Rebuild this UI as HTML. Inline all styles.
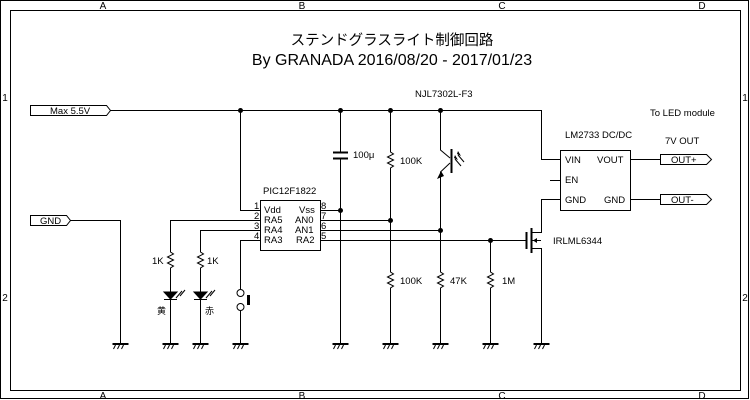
<!DOCTYPE html>
<html><head><meta charset="utf-8"><style>
html,body{margin:0;padding:0;background:#fff;}
svg{display:block;font-family:"Liberation Sans","Noto Sans CJK JP",sans-serif;}
</style></head><body>
<svg width="750" height="400" viewBox="0 0 750 400" xmlns="http://www.w3.org/2000/svg">
<defs>
<g id="gnd" stroke="#000" stroke-width="1" fill="none">
<line x1="-8" y1="0" x2="8" y2="0" stroke-width="2"/>
<line x1="-5" y1="1" x2="-7" y2="5"/><line x1="-1" y1="1" x2="-3" y2="5"/><line x1="3" y1="1" x2="1" y2="5"/>
</g>
<g id="res" stroke="#000" stroke-width="1" fill="none">
<polyline points="0,-10 0,-8 3,-6 -3,-3 3,0 -3,3 3,6 0,8 0,10"/>
</g>
</defs>
<rect x="0.5" y="0.5" width="748" height="398" fill="none" stroke="#000"/>
<rect x="10.5" y="10.5" width="730" height="380" fill="none" stroke="#000"/>
<g font-size="10" fill="#000" text-anchor="middle">
<text x="103" y="9">A</text><text x="302" y="9">B</text><text x="502" y="9">C</text><text x="702" y="9">D</text>
<text x="103" y="399">A</text><text x="302" y="399">B</text><text x="502" y="399">C</text><text x="702" y="399">D</text>
<text x="5" y="101">1</text><text x="745" y="101">1</text><text x="5" y="301">2</text><text x="745" y="301">2</text>
</g>
<g fill="#000" text-anchor="middle">
<text x="392" y="45" font-size="14.5">ステンドグラスライト制御回路</text>
<text x="392" y="65" font-size="16">By GRANADA 2016/08/20 - 2017/01/23</text>
</g>
<g stroke="#000" stroke-width="1" fill="none">
<polygon points="30.5,105.5 106.5,105.5 110.5,110.5 106.5,115.5 30.5,115.5"/>
<polygon points="30.5,215.5 66.5,215.5 70.5,220.5 66.5,225.5 30.5,225.5"/>
<polygon points="660.5,154.5 706.5,154.5 711.5,159.5 706.5,164.5 660.5,164.5"/>
<polygon points="660.5,194.5 706.5,194.5 711.5,199.5 706.5,204.5 660.5,204.5"/>
<polyline points="110,110.5 541.5,110.5 541.5,159.5 560,159.5"/>
<line x1="550" y1="180.5" x2="560" y2="180.5"/>
<polyline points="560,199.5 541.5,199.5 541.5,232.5 532,232.5"/>
<polyline points="532,248.5 541.5,248.5 541.5,343"/>
<line x1="631" y1="159.5" x2="660" y2="159.5"/>
<line x1="631" y1="199.5" x2="660" y2="199.5"/>
<rect x="560.5" y="150.5" width="70" height="60"/>
<polyline points="70,220.5 120.5,220.5 120.5,343"/>
<rect x="260.5" y="200.5" width="60" height="50"/>
<polyline points="240.5,110 240.5,210.5 260,210.5"/>
<polyline points="260,220.5 170.5,220.5 170.5,250"/>
<polyline points="260,230.5 200.5,230.5 200.5,250"/>
<polyline points="260,240.5 240.5,240.5 240.5,289"/>
<line x1="320" y1="210.5" x2="340" y2="210.5"/>
<line x1="320" y1="220.5" x2="390" y2="220.5"/>
<line x1="320" y1="230.5" x2="440" y2="230.5"/>
<line x1="320" y1="240.5" x2="526" y2="240.5"/>
<line x1="170.5" y1="270" x2="170.5" y2="343"/>
<line x1="200.5" y1="270" x2="200.5" y2="343"/>
<line x1="240.5" y1="311" x2="240.5" y2="343"/>
<line x1="340.5" y1="110" x2="340.5" y2="152"/>
<line x1="340.5" y1="158" x2="340.5" y2="343"/>
<line x1="333" y1="152.5" x2="348" y2="152.5" stroke-width="2"/>
<line x1="333" y1="158.5" x2="348" y2="158.5" stroke-width="2"/>
<line x1="390.5" y1="110" x2="390.5" y2="150"/>
<line x1="390.5" y1="170" x2="390.5" y2="270"/>
<line x1="390.5" y1="290" x2="390.5" y2="343"/>
<polyline points="440.5,110 440.5,150 450,158"/>
<polyline points="450,163 440.5,172 440.5,270"/>
<line x1="440.5" y1="290" x2="440.5" y2="343"/>
<line x1="451.5" y1="149" x2="451.5" y2="173" stroke-width="2"/>
<line x1="461" y1="166" x2="455" y2="159"/><line x1="464" y1="162" x2="458" y2="155"/>
<line x1="490.5" y1="240" x2="490.5" y2="270"/>
<line x1="490.5" y1="290" x2="490.5" y2="343"/>
<line x1="526.5" y1="232" x2="526.5" y2="249" stroke-width="2"/>
<line x1="531.5" y1="228" x2="531.5" y2="253" stroke-width="2"/>
<line x1="532" y1="240.5" x2="541" y2="240.5"/>
<circle cx="240.5" cy="293" r="3.5" fill="#fff"/>
<circle cx="240.5" cy="307" r="3.5" fill="#fff"/>
</g>
<polygon points="437,179 441,171 444,176" fill="#000"/>
<polygon points="454,158 458,160 455,155" fill="#000"/>
<polygon points="457,154 461,156 458,151" fill="#000"/>
<polygon points="533,240.5 537,238 537,243" fill="#000"/>
<rect x="247" y="295" width="3" height="10" fill="#000"/>
<g fill="#000" stroke="#000">
<polygon points="164,292 177,292 170.5,299"/>
<line x1="164" y1="299.5" x2="177" y2="299.5"/>
<polygon points="194,292 207,292 200.5,299"/>
<line x1="194" y1="299.5" x2="207" y2="299.5"/>
<line x1="176" y1="298" x2="182" y2="291"/><line x1="180" y1="296" x2="185" y2="290"/>
<line x1="206" y1="298" x2="212" y2="291"/><line x1="210" y1="296" x2="215" y2="290"/>
</g>
<use href="#res" x="170.5" y="260"/><use href="#res" x="200.5" y="260"/>
<use href="#res" x="390.5" y="160"/><use href="#res" x="390.5" y="280"/>
<use href="#res" x="440.5" y="280"/><use href="#res" x="490.5" y="280"/>
<g>
<use href="#gnd" x="120.5" y="344"/><use href="#gnd" x="170.5" y="344"/><use href="#gnd" x="200.5" y="344"/>
<use href="#gnd" x="240.5" y="344"/><use href="#gnd" x="340.5" y="344"/><use href="#gnd" x="390.5" y="344"/>
<use href="#gnd" x="440.5" y="344"/><use href="#gnd" x="490.5" y="344"/><use href="#gnd" x="541.5" y="344"/>
</g>
<g fill="#000">
<circle cx="240.5" cy="110.5" r="2.5"/><circle cx="340.5" cy="110.5" r="2.5"/><circle cx="390.5" cy="110.5" r="2.5"/><circle cx="440.5" cy="110.5" r="2.5"/>
<circle cx="340.5" cy="210.5" r="2.5"/><circle cx="390.5" cy="220.5" r="2.5"/><circle cx="440.5" cy="230.5" r="2.5"/><circle cx="490.5" cy="240.5" r="2.5"/>
</g>
<g font-size="9.5" fill="#000">
<text x="50" y="114">Max 5.5V</text>
<text x="40" y="224">GND</text>
<text x="671" y="163">OUT+</text>
<text x="671" y="203">OUT-</text>
<text x="263" y="194">PIC12F1822</text>
<text x="264" y="213">Vdd</text><text x="264" y="223">RA5</text><text x="264" y="233">RA4</text><text x="264" y="243">RA3</text>
<text x="299" y="213">Vss</text><text x="295" y="223">AN0</text><text x="295" y="233">AN1</text><text x="296" y="243">RA2</text>
<text x="254" y="209">1</text><text x="254" y="219">2</text><text x="254" y="229">3</text><text x="254" y="239">4</text>
<text x="321" y="209">8</text><text x="321" y="219">7</text><text x="321" y="229">6</text><text x="321" y="239">5</text>
<text x="152" y="264">1K</text><text x="207" y="264">1K</text>
<text x="157" y="314" font-size="9">黄</text><text x="205" y="314" font-size="9">赤</text>
<text x="353" y="158">100μ</text>
<text x="400" y="164">100K</text><text x="400" y="284">100K</text>
<text x="450" y="284">47K</text><text x="502" y="284">1M</text>
<text x="415" y="97">NJL7302L-F3</text>
<text x="650" y="116">To LED module</text>
<text x="565" y="138">LM2733 DC/DC</text>
<text x="665" y="144">7V OUT</text>
<text x="565" y="163">VIN</text><text x="597" y="163">VOUT</text>
<text x="565" y="183">EN</text>
<text x="565" y="203">GND</text><text x="604" y="203">GND</text>
<text x="553" y="244">IRLML6344</text>
</g>
</svg>
</body></html>
